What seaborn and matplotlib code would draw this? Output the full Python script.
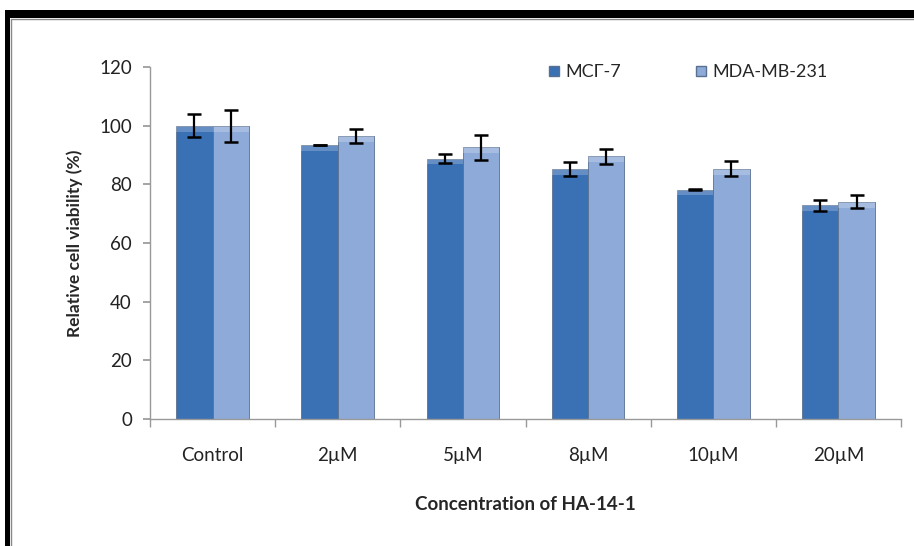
import numpy as np
import pandas as pd
import matplotlib
matplotlib.use("Agg")
import matplotlib.pyplot as plt
import seaborn as sns
from matplotlib.patches import Rectangle
from matplotlib.lines import Line2D

categories = ["Control", "2\u00b5M", "5\u00b5M", "8\u00b5M", "10\u00b5M", "20\u00b5M"]
series_names = ["MC\u0393-7", "MDA-MB-231"]
mcf7_values = [100, 93.4, 88.8, 85.3, 78.2, 72.8]
mcf7_err = [4.0, 0.0, 1.4, 2.3, 0.3, 2.0]
mda_values = [100, 96.6, 92.6, 89.5, 85.3, 74.1]
mda_err = [5.5, 2.4, 4.3, 2.7, 2.6, 2.2]
yticks = [0, 20, 40, 60, 80, 100, 120]

df = pd.DataFrame({
    "cat": categories * 2,
    "series": [series_names[0]] * 6 + [series_names[1]] * 6,
    "value": mcf7_values + mda_values,
    "err": mcf7_err + mda_err,
})

sns.set_theme(style="white")
plt.rcParams["font.family"] = ["Lato", "DejaVu Sans"]

fig = plt.figure(figsize=(9.14, 5.46), dpi=100)
ax = fig.add_axes([150 / 914, 1 - 419 / 546, (901 - 150) / 914, (419 - 67) / 546])

colors = ["#3a70b4", "#8eaad8"]
sns.barplot(data=df, x="cat", y="value", hue="series", order=categories,
            hue_order=series_names, palette=colors, width=0.58, errorbar=None,
            saturation=1, ax=ax, legend=False, edgecolor="#5a7090", linewidth=0.6)

bars = [p for p in ax.patches if isinstance(p, Rectangle) and p.get_width() > 0]
bars = sorted(bars, key=lambda p: p.get_x())
errs_by_series = {series_names[0]: mcf7_err, series_names[1]: mda_err}
vals_by_series = {series_names[0]: mcf7_values, series_names[1]: mda_values}
xs, ys, es = [], [], []
for i, cat in enumerate(categories):
    for j, s in enumerate(series_names):
        b = bars[i * 2 + j]
        xs.append(b.get_x() + b.get_width() / 2)
        ys.append(vals_by_series[s][i])
        es.append(errs_by_series[s][i])
ax.errorbar(xs, ys, yerr=es, fmt="none", ecolor="black", elinewidth=1.6,
            capsize=5, capthick=1.8, zorder=5)

# subtle bevel highlight at bar tops
for b in bars:
    h = b.get_height()
    ax.add_patch(Rectangle((b.get_x(), h - 2.0), b.get_width(), 2.0,
                           facecolor="white", alpha=0.22, edgecolor="none", zorder=3))

ax.set_ylim(0, 120)
ax.set_xlim(-0.5, len(categories) - 0.5)
ax.set_yticks(yticks)
ax.set_yticklabels([str(t) for t in yticks], fontsize=13.5, color="#222222")
ax.tick_params(axis="x", which="major", length=0, labelsize=13.5, pad=20, colors="#222222")
ax.set_xticks(np.arange(-0.5, len(categories), 1.0), minor=True)
ax.tick_params(axis="x", which="minor", length=6, color="#999999", direction="out", bottom=True)
ax.tick_params(axis="y", length=5, color="#999999", direction="out", left=True, pad=8)

for s in ["top", "right"]:
    ax.spines[s].set_visible(False)
for s in ["left", "bottom"]:
    ax.spines[s].set_color("#999999")
    ax.spines[s].set_linewidth(1)

ax.set_xlabel("Concentration of HA-14-1", fontsize=13.5, fontweight="bold", labelpad=23)
ax.set_ylabel("Relative cell viability (%)", fontsize=12.5, fontweight="bold", labelpad=12)

handles = [Line2D([0], [0], marker="s", linestyle="none", markersize=7,
                  markerfacecolor=c, markeredgecolor="#5a7090") for c in colors]
fig.legend(handles, series_names, loc="center left", bbox_to_anchor=(530 / 914, 1 - 72 / 546),
           ncol=2, frameon=False, fontsize=13, handletextpad=0.15, columnspacing=4.0,
           handlelength=0.9)

# frame decoration
fig.patches.append(Rectangle((5 / 914, 0), 5 / 914, 1 - 10 / 546, transform=fig.transFigure,
                             facecolor="black", edgecolor="none"))
fig.patches.append(Rectangle((5 / 914, 1 - 18 / 546), 1, 8 / 546, transform=fig.transFigure,
                             facecolor="black", edgecolor="none"))
fig.add_artist(Line2D([11 / 914, 11 / 914], [0, 1 - 19 / 546], transform=fig.transFigure,
                      color="#888888", linewidth=1))
fig.add_artist(Line2D([11 / 914, 1], [1 - 19 / 546, 1 - 19 / 546], transform=fig.transFigure,
                      color="#888888", linewidth=1))

fig.savefig("out.png", dpi=100)
